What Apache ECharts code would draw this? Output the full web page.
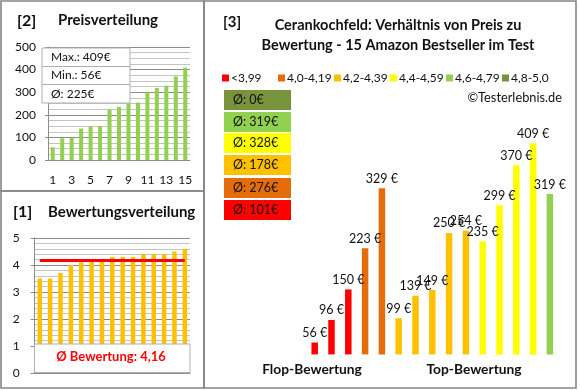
<!DOCTYPE html>
<html><head><meta charset="utf-8">
<script src="https://cdn.jsdelivr.net/npm/echarts@6.0.0/dist/echarts.min.js"></script>
<style>html,body{margin:0;padding:0;background:#fff}#c{width:580px;height:390px}</style>
</head><body><div id="c"></div>
<script>
// ---- data ----
const rankLabels = ['1','2','3','4','5','6','7','8','9','10','11','12','13','14','15'];
const pricesSorted = [56,96,99,139,149,150,223,235,250,254,299,319,329,370,409];
const ratingsSorted = [3.5,3.5,3.7,4.0,4.1,4.2,4.2,4.3,4.3,4.3,4.4,4.4,4.4,4.5,4.6];
const avgRating = 4.16;
const avgRatingText = '4,16';
const priceMax = 409, priceMin = 56, priceAvg = 225;
const ratingClasses = ['<3,99','4,0-4,19','4,2-4,39','4,4-4,59','4,6-4,79','4,8-5,0'];
const classAvgPrice = [101,276,178,328,319,0];
const productPrices = [56,96,150,223,329,99,139,149,250,254,235,299,370,409,319];
const productClass  = [0,0,0,1,1,2,2,2,2,2,3,3,3,3,4];
const bottomLabels = ['Flop-Bewertung','Top-Bewertung'];

// ---- styles ----
const FONT = 'Lato, "Liberation Sans", sans-serif';
const classColors = ['#ff0000','#e46c0a','#ffc000','#ffff00','#92d050','#77933c'];
const majorGrid = '#8c8c8c', minorGrid = '#c4c4c4', axisCol = '#8c8c8c';
const legendLeft = [222, 278, 334, 390, 446, 502];

const chart = echarts.init(document.getElementById('c'), null, {renderer:'canvas'});

const series3 = ratingClasses.map((name, c) => ({
  name, type:'bar', xAxisIndex:2, yAxisIndex:2, stack:'p', barWidth:6.5,
  itemStyle:{color:classColors[c]},
  label:{show:true, position:'top', distance:3, fontFamily:FONT, fontSize:12.5, color:'#111',
    formatter: p => p.value + ' €'},
  data: productPrices.map((v,i) => productClass[i] === c ? v : '-')
}));

const legends = ratingClasses.map((name, i) => ({
  left:legendLeft[i], top:72, padding:0, itemWidth:7, itemHeight:7, icon:'rect',
  textStyle:{fontFamily:FONT, fontSize:12, color:'#111', padding:[0,0,0,-3]},
  data:[name]
}));

// average boxes (top to bottom: highest class first)
const boxGraphics = [];
const boxTop = [90,112,133,155,178,200];
for (let k = 0; k < 6; k++) {
  const c = 5 - k;
  boxGraphics.push({type:'rect', shape:{x:224, y:boxTop[k], width:67, height:20}, style:{fill:classColors[c]}, z:50});
  boxGraphics.push({type:'text', x:233, y:boxTop[k]+10, style:{text:'Ø: ' + classAvgPrice[c] + '€', font:'12.5px ' + FONT, fill:'#111', verticalAlign:'middle'}, z:51});
}

const option = {
  animation:false,
  backgroundColor:'#fff',
  textStyle:{fontFamily:FONT},
  legend: legends,
  grid:[
    {left:48, top:47, width:142, height:113},
    {left:34.6, top:238, width:155.4, height:135},
    {left:306.3, top:120, width:252, height:234.4}
  ],
  xAxis:[
    {gridIndex:0, type:'category', data:rankLabels,
     axisLine:{lineStyle:{color:axisCol}}, axisTick:{show:false},
     axisLabel:{interval:1, margin:14, fontFamily:FONT, fontSize:12, color:'#111'}},
    {gridIndex:1, type:'category', data:rankLabels,
     axisLine:{lineStyle:{color:axisCol}}, axisTick:{show:false}, axisLabel:{show:false}},
    {gridIndex:2, type:'category', data:rankLabels, show:false}
  ],
  yAxis:[
    {gridIndex:0, type:'value', min:0, max:500, interval:100,
     axisLine:{show:true, lineStyle:{color:axisCol}}, axisTick:{show:true, length:3, lineStyle:{color:axisCol}},
     axisLabel:{margin:12, fontFamily:FONT, fontSize:12, color:'#111'},
     splitLine:{lineStyle:{color:majorGrid}},
     minorTick:{show:false, splitNumber:4},
     minorSplitLine:{show:true, lineStyle:{color:minorGrid}}},
    {gridIndex:1, type:'value', min:0, max:5, interval:1,
     axisLine:{show:true, lineStyle:{color:axisCol}}, axisTick:{show:true, length:4, lineStyle:{color:axisCol}},
     axisLabel:{margin:15, fontFamily:FONT, fontSize:12, color:'#111'},
     splitLine:{lineStyle:{color:majorGrid}},
     minorTick:{show:false, splitNumber:5},
     minorSplitLine:{show:true, lineStyle:{color:minorGrid}}},
    {gridIndex:2, type:'value', min:35, max:450, show:false, splitLine:{show:false}}
  ],
  series:[
    {type:'bar', xAxisIndex:0, yAxisIndex:0, data:pricesSorted, barWidth:4,
     itemStyle:{color:'#92d050'}},
    {type:'bar', xAxisIndex:1, yAxisIndex:1, data:ratingsSorted, barWidth:4.5,
     itemStyle:{color:'#ffc000'},
     markLine:{silent:true, symbol:'none', label:{show:false},
       lineStyle:{color:'#ff0000', width:3, type:'solid'},
       data:[[{coord:[0, avgRating]},{coord:[14, avgRating]}]]}},
    ...series3
  ],
  graphic:[
    // panel borders
    {type:'rect', shape:{x:1, y:1, width:203, height:190}, style:{fill:null, stroke:'#858585', lineWidth:1.6}, z:0},
    {type:'rect', shape:{x:1, y:191, width:203, height:197}, style:{fill:null, stroke:'#858585', lineWidth:1.6}, z:0},
    {type:'rect', shape:{x:204, y:1, width:372, height:387}, style:{fill:null, stroke:'#858585', lineWidth:1.6}, z:0},
    // panel titles
    {type:'text', x:17, y:21, style:{text:'[2]', font:'bold 16px ' + FONT, fill:'#111', verticalAlign:'middle'}},
    {type:'text', x:58, y:20, style:{text:'Preisverteilung', font:'bold 15px ' + FONT, fill:'#111', verticalAlign:'middle'}},
    {type:'text', x:13, y:212, style:{text:'[1]', font:'bold 16px ' + FONT, fill:'#111', verticalAlign:'middle'}},
    {type:'text', x:48, y:212, style:{text:'Bewertungsverteilung', font:'bold 15px ' + FONT, fill:'#111', verticalAlign:'middle'}},
    {type:'text', x:223, y:22, style:{text:'[3]', font:'bold 15px ' + FONT, fill:'#111', verticalAlign:'middle'}},
    {type:'text', x:398, y:35, style:{text:'Cerankochfeld: Verhältnis von Preis zu\nBewertung - 15 Amazon Bestseller im Test', font:'bold 14.5px ' + FONT, fill:'#111', align:'center', verticalAlign:'middle', lineHeight:20}},
    {type:'text', x:562, y:98, style:{text:'©Testerlebnis.de', font:'12.8px ' + FONT, fill:'#111', align:'right', verticalAlign:'middle'}},
    // price stats box
    {type:'rect', shape:{x:42, y:48, width:88, height:55}, style:{fill:'#fff', stroke:'#b0b0b0', lineWidth:1}, z:50},
    {type:'line', shape:{x1:42, y1:66.5, x2:130, y2:66.5}, style:{stroke:'#b0b0b0', lineWidth:1}, z:51},
    {type:'line', shape:{x1:42, y1:84.5, x2:130, y2:84.5}, style:{stroke:'#b0b0b0', lineWidth:1}, z:51},
    {type:'text', x:51, y:57.5, style:{text:'Max.: ' + priceMax + '€', font:'12px ' + FONT, fill:'#111', verticalAlign:'middle'}, z:52},
    {type:'text', x:51, y:75.5, style:{text:'Min.: ' + priceMin + '€', font:'12px ' + FONT, fill:'#111', verticalAlign:'middle'}, z:52},
    {type:'text', x:51, y:94, style:{text:'Ø: ' + priceAvg + '€', font:'12px ' + FONT, fill:'#111', verticalAlign:'middle'}, z:52},
    // rating average box
    {type:'rect', shape:{x:34.5, y:344, width:155.5, height:28.5}, style:{fill:'#fff', stroke:'#b0b0b0', lineWidth:1}, z:50},
    {type:'text', x:111, y:357, style:{text:'Ø Bewertung: ' + avgRatingText, font:'bold 13px ' + FONT, fill:'#ff0000', align:'center', verticalAlign:'middle'}, z:52},
    // bottom labels of chart 3
    {type:'text', x:312, y:370, style:{text:bottomLabels[0], font:'bold 13.8px ' + FONT, fill:'#111', align:'center', verticalAlign:'middle'}},
    {type:'text', x:474, y:370, style:{text:bottomLabels[1], font:'bold 13.8px ' + FONT, fill:'#111', align:'center', verticalAlign:'middle'}},
    ...boxGraphics
  ]
};
chart.setOption(option);
</script>
</body></html>
